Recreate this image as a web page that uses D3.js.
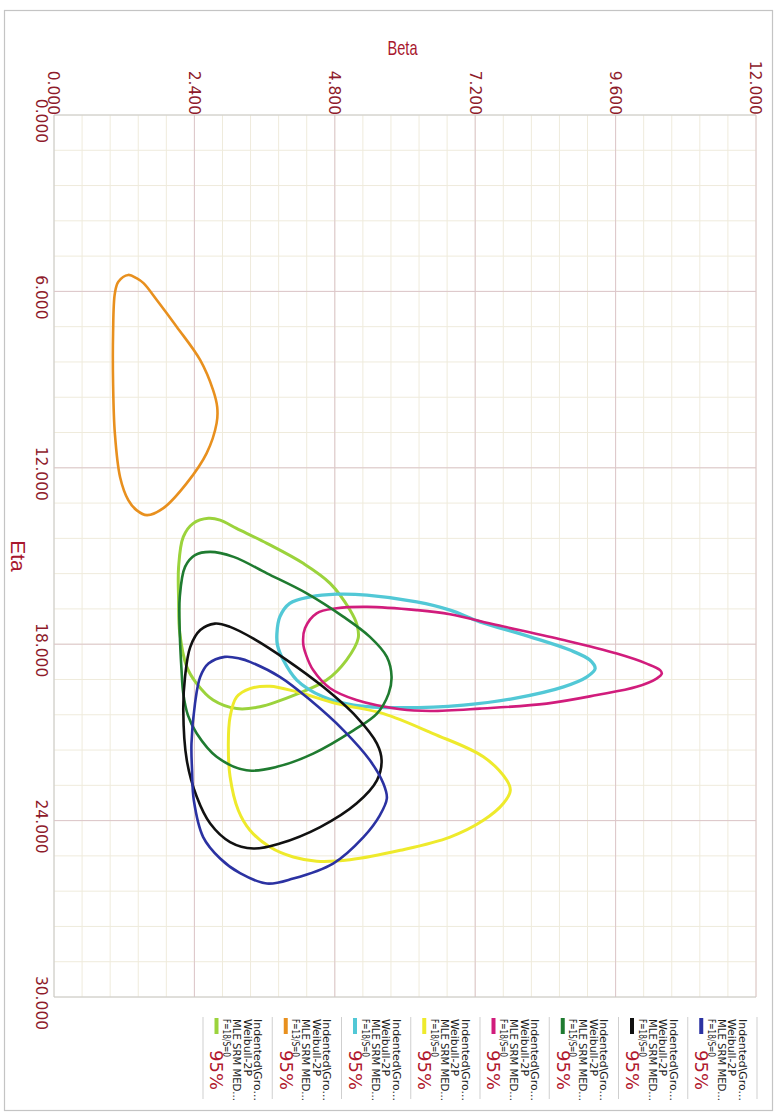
<!DOCTYPE html>
<html>
<head>
<meta charset="utf-8">
<script src="https://cdn.jsdelivr.net/npm/d3@7"></script>
<style>
  html, body { margin: 0; padding: 0; background: #fff; }
  svg { display: block; }
</style>
</head>
<body>
<svg id="chart" width="774" height="1113"></svg>
<script>
// Axis ticks
const betaTicks = [0, 2.4, 4.8, 7.2, 9.6, 12];
const etaTicks = [0, 6, 12, 18, 24, 30];

// Series (legend order)
const seriesColors = ["#9bd33c", "#e8901e", "#52c8d6", "#eeea2c", "#d11c7c", "#1f7b30", "#111111", "#2b32a2"];
const seriesWidths = [3, 2.6, 3.3, 3, 2.6, 2.6, 2.6, 2.6];
const seriesLine1 = "Indented\\Gro...";
const seriesLine2 = "Weibull-2P";
const seriesLine3 = "MLE SRM MED...";
const seriesCounts = ["F=18/S=0", "F=13/S=0", "F=18/S=0", "F=18/S=0", "F=18/S=0", "F=15/S=0", "F=18/S=0", "F=18/S=0"];
const seriesLevel = "95%";

// 95% contour bounds, [beta, eta]
const lightGreen = [[2.64,13.72],[2.38,13.89],[2.21,14.35],[2.13,15.37],[2.13,16.50],[2.15,17.62],[2.27,18.77],[2.44,19.34],[2.72,19.90],[3.12,20.19],[3.52,20.13],[4.15,19.70],[4.66,19.22],[5.00,18.54],[5.20,17.80],[5.18,17.35],[5.06,16.84],[4.72,15.93],[4.26,15.25],[3.64,14.57],[3.12,14.06],[2.84,13.78]];
const orange = [[1.27,5.44],[1.10,5.67],[1.04,6.07],[1.01,7.42],[1.01,9.12],[1.04,10.82],[1.13,12.32],[1.27,13.10],[1.41,13.44],[1.59,13.61],[1.87,13.37],[2.27,12.52],[2.61,11.50],[2.78,10.48],[2.79,9.94],[2.72,9.36],[2.50,8.34],[2.10,7.21],[1.76,6.30],[1.53,5.72],[1.41,5.55]];
const cyan = [[3.81,17.64],[3.86,17.07],[4.03,16.61],[4.38,16.39],[4.83,16.30],[5.35,16.33],[6.20,16.56],[6.77,16.84],[7.28,17.24],[8.14,17.75],[8.82,18.20],[9.16,18.54],[9.25,18.83],[9.11,19.11],[8.71,19.45],[7.85,19.85],[7.00,20.07],[5.92,20.16],[5.12,20.07],[4.60,19.79],[4.15,19.22],[3.92,18.54],[3.82,18.03]];
const yellow = [[3.69,19.43],[3.35,19.51],[3.12,19.80],[3.01,20.47],[2.98,21.38],[3.01,22.51],[3.15,23.65],[3.35,24.33],[3.69,24.90],[4.09,25.24],[4.49,25.38],[5.06,25.33],[5.92,25.01],[6.77,24.56],[7.34,23.99],[7.68,23.42],[7.80,22.97],[7.74,22.63],[7.34,21.83],[6.48,21.04],[5.63,20.36],[4.83,20.02],[4.15,19.62]];
const magenta = [[4.26,17.98],[4.29,17.46],[4.49,16.95],[4.83,16.78],[5.35,16.73],[6.20,16.84],[6.77,16.98],[7.57,17.35],[8.71,17.86],[9.62,18.32],[10.13,18.66],[10.36,18.88],[10.39,19.00],[10.30,19.17],[9.96,19.45],[9.28,19.73],[8.42,20.02],[7.28,20.19],[6.43,20.27],[5.92,20.21],[5.17,19.90],[4.72,19.50],[4.43,18.88],[4.31,18.37]];
const darkGreen = [[2.67,14.86],[2.41,14.97],[2.24,15.37],[2.15,16.39],[2.15,17.62],[2.18,18.88],[2.21,19.68],[2.29,20.42],[2.44,21.04],[2.78,21.83],[3.29,22.29],[3.81,22.17],[4.43,21.72],[5.12,20.93],[5.52,20.36],[5.72,19.68],[5.77,19.11],[5.69,18.43],[5.40,17.75],[4.95,17.07],[4.32,16.27],[3.64,15.59],[3.07,15.03]];
const black = [[2.75,17.30],[2.50,17.52],[2.33,18.09],[2.24,19.11],[2.21,20.24],[2.27,21.95],[2.44,23.19],[2.67,24.10],[3.01,24.73],[3.41,24.95],[3.86,24.78],[4.55,24.22],[5.17,23.42],[5.52,22.63],[5.60,21.95],[5.52,21.38],[5.17,20.47],[4.60,19.45],[3.98,18.54],[3.41,17.81],[3.01,17.41]];
const blue = [[2.92,18.43],[2.64,18.66],[2.50,19.11],[2.41,20.02],[2.35,21.38],[2.36,22.29],[2.39,23.31],[2.55,24.56],[2.84,25.29],[3.18,25.79],[3.64,26.14],[4.09,25.97],[4.77,25.46],[5.29,24.56],[5.57,23.82],[5.69,23.24],[5.63,22.74],[5.40,21.95],[4.95,20.93],[4.38,19.90],[3.86,19.11],[3.35,18.60],[3.18,18.49]];

const contours = [lightGreen, orange, cyan, yellow, magenta, darkGreen, black, blue];

const svg = d3.select("#chart");
const plotLeft = 54, plotRight = 756, plotTop = 115, plotBottom = 997;

const x = d3.scaleLinear().domain([0, 12]).range([plotLeft, plotRight]);
const y = d3.scaleLinear().domain([0, 30]).range([plotTop, plotBottom]);

const tickColor = "#8e1b2b";
const titleColor = "#a8172e";

// outer frame
svg.append("rect")
  .attr("x", 4.5).attr("y", 10.5).attr("width", 768).attr("height", 1100)
  .attr("fill", "none").attr("stroke", "#c4c4c4").attr("stroke-width", 1.2);

// minor grid
const grid = svg.append("g");
const minorBeta = d3.range(0, 12.0001, 0.48);
const minorEta = d3.range(0, 30.0001, 1.2);
grid.selectAll(".mv").data(minorBeta).join("line")
  .attr("x1", d => x(d)).attr("x2", d => x(d)).attr("y1", plotTop).attr("y2", plotBottom)
  .attr("stroke", "#efebdc").attr("stroke-width", 1);
grid.selectAll(".mh").data(minorEta).join("line")
  .attr("y1", d => y(d)).attr("y2", d => y(d)).attr("x1", plotLeft).attr("x2", plotRight)
  .attr("stroke", "#efebdc").attr("stroke-width", 1);

// major grid
grid.selectAll(".Mv").data(betaTicks).join("line")
  .attr("x1", d => x(d)).attr("x2", d => x(d)).attr("y1", plotTop).attr("y2", plotBottom)
  .attr("stroke", d => d === 0 ? "#c8c8c8" : "#dcc6ca").attr("stroke-width", 1);
grid.selectAll(".Mh").data(etaTicks).join("line")
  .attr("y1", d => y(d)).attr("y2", d => y(d)).attr("x1", plotLeft).attr("x2", plotRight)
  .attr("stroke", d => (d === 0 || d === 30) ? "#c8c8c8" : "#dcc6ca").attr("stroke-width", 1);

// tick labels (rotated)
const fmt = d3.format(".3f");
svg.append("g").selectAll("text").data(betaTicks).join("text")
  .attr("transform", d => `translate(${x(d)},${plotTop}) rotate(90)`)
  .attr("text-anchor", "end").attr("dy", "0.36em")
  .attr("font-family", "'DejaVu Sans', Verdana, sans-serif").attr("font-size", 15.5)
  .attr("fill", tickColor).text(fmt);

svg.append("g").selectAll("text").data(etaTicks).join("text")
  .attr("transform", d => `translate(42,${y(d) + 6}) rotate(90)`)
  .attr("text-anchor", "middle").attr("dy", "0.36em")
  .attr("font-family", "'DejaVu Sans', Verdana, sans-serif").attr("font-size", 15.5)
  .attr("fill", tickColor).text(fmt);

// axis titles
svg.append("text")
  .attr("x", 402.5).attr("y", 55).attr("text-anchor", "middle")
  .attr("font-family", "'Liberation Sans Narrow', 'Arial Narrow', sans-serif").attr("font-size", 21)
  .attr("textLength", 30).attr("lengthAdjust", "spacingAndGlyphs")
  .attr("fill", titleColor).text("Beta");

svg.append("text")
  .attr("transform", "translate(19,556) rotate(90)")
  .attr("text-anchor", "middle").attr("dy", "0.36em")
  .attr("font-family", "'Liberation Sans Narrow', 'Arial Narrow', sans-serif").attr("font-size", 21)
  .attr("fill", titleColor).text("Eta");

// contours
const line = d3.line().x(d => x(d[0])).y(d => y(d[1])).curve(d3.curveCatmullRomClosed.alpha(0.5));
svg.append("g").selectAll("path").data(contours).join("path")
  .attr("d", line)
  .attr("fill", "none")
  .attr("stroke", (d, i) => seriesColors[i])
  .attr("stroke-width", (d, i) => seriesWidths[i])
  .attr("stroke-linejoin", "round");

// legend
const legendX = d3.scaleLinear().domain([0, 8]).range([203, 757]);
const lg = svg.append("g");
lg.selectAll(".sep").data(d3.range(9)).join("line")
  .attr("x1", d => legendX(d)).attr("x2", d => legendX(d))
  .attr("y1", 1017).attr("y2", 1099)
  .attr("stroke", "#cfcfcf").attr("stroke-width", 1);

const entries = lg.selectAll(".entry").data(seriesColors).join("g")
  .attr("transform", (d, i) => `translate(${legendX(i)},0)`);

entries.append("rect")
  .attr("x", 11.5).attr("y", 1018).attr("width", 4).attr("height", 16)
  .attr("fill", d => d);

const legendLines = [
  { dx: 55, text: () => seriesLine1, len: 82 },
  { dx: 44.5, text: () => seriesLine2, len: 57 },
  { dx: 34, text: () => seriesLine3, len: 82 },
  { dx: 24, text: (d, i) => seriesCounts[i], len: 38 }
];
legendLines.forEach(l => {
  entries.append("text")
    .attr("transform", `translate(${l.dx},1019) rotate(90)`)
    .attr("dy", "0.36em")
    .attr("font-family", "'DejaVu Sans', sans-serif").attr("font-size", 11)
    .attr("textLength", l.len).attr("lengthAdjust", "spacingAndGlyphs")
    .attr("fill", "#1a1a1a").text(l.text);
});
entries.append("text")
  .attr("transform", "translate(13.5,1050) rotate(90)")
  .attr("dy", "0.36em")
  .attr("font-family", "'DejaVu Sans', sans-serif").attr("font-size", 17)
  .attr("textLength", 40).attr("lengthAdjust", "spacingAndGlyphs")
  .attr("fill", "#b0182e").text(seriesLevel);
</script>
</body>
</html>
